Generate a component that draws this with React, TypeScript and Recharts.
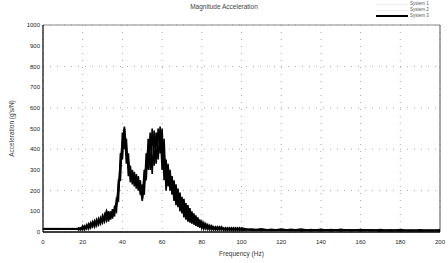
import React from 'react';
import { LineChart, Line, XAxis, YAxis, CartesianGrid, ReferenceLine, Label } from 'recharts';

document.body.style.margin = '0';

// frequency (Hz): 1 Hz steps to 100, then 5 Hz steps
const freq = [
  0, 1, 2, 3, 4, 5, 6, 7, 8, 9, 10, 11, 12, 13, 14, 15, 16, 17, 18, 19,
  20, 21, 22, 23, 24, 25, 26, 27, 28, 29, 30, 31, 32, 33, 34, 35, 36, 37, 38, 39,
  40, 41, 42, 43, 44, 45, 46, 47, 48, 49, 50, 51, 52, 53, 54, 55, 56, 57, 58, 59,
  60, 61, 62, 63, 64, 65, 66, 67, 68, 69, 70, 71, 72, 73, 74, 75, 76, 77, 78, 79,
  80, 81, 82, 83, 84, 85, 86, 87, 88, 89, 90, 91, 92, 93, 94, 95, 96, 97, 98, 99,
  100, 105, 110, 115, 120, 125, 130, 135, 140, 145, 150, 155, 160, 165, 170, 175, 180, 185, 190, 195, 200,
];

const system1 = [
  16, 14, 16, 14, 16, 14, 16, 14, 16, 14, 16, 14, 16, 14, 16, 14, 16, 14, 20, 10,
  30, 12, 35, 15, 45, 25, 55, 30, 65, 40, 80, 50, 95, 50, 100, 65, 120, 100, 250, 250,
  480, 400, 450, 270, 320, 230, 290, 210, 270, 180, 230, 180, 380, 300, 480, 280, 490, 330, 500, 380,
  500, 250, 350, 220, 300, 180, 250, 130, 210, 100, 170, 70, 140, 50, 115, 40, 90, 30, 70, 20,
  50, 15, 40, 12, 32, 10, 25, 10, 25, 10, 25, 8, 20, 8, 20, 8, 20, 8, 20, 8,
  20, 8, 15, 7, 14, 7, 14, 6, 13, 6, 13, 6, 12, 6, 12, 5, 12, 5, 11, 5, 11,
];

const system2 = [
  14, 16, 14, 16, 14, 16, 14, 16, 14, 16, 14, 16, 14, 16, 14, 16, 14, 16, 10, 20,
  10, 30, 15, 40, 20, 50, 25, 60, 35, 70, 45, 85, 55, 100, 60, 110, 75, 160, 150, 380,
  350, 510, 330, 380, 240, 300, 220, 280, 200, 250, 150, 300, 250, 450, 300, 500, 320, 480, 350, 510,
  300, 450, 200, 330, 200, 270, 150, 230, 120, 190, 90, 160, 60, 130, 45, 100, 35, 80, 25, 60,
  18, 45, 15, 35, 12, 30, 10, 25, 10, 25, 10, 20, 8, 20, 8, 20, 8, 20, 8, 20,
  8, 14, 7, 13, 7, 13, 6, 12, 6, 12, 6, 11, 6, 11, 5, 11, 5, 10, 5, 10, 5,
];

const system3 = [
  15, 15, 15, 15, 15, 15, 15, 15, 15, 15, 15, 15, 15, 15, 15, 15, 15, 15, 15, 18,
  20, 22, 25, 28, 32, 38, 40, 45, 50, 55, 62, 68, 100, 75, 80, 88, 98, 130, 200, 320,
  420, 500, 390, 320, 280, 265, 255, 245, 235, 215, 160, 240, 320, 400, 420, 450, 420, 440, 460, 480,
  400, 360, 280, 270, 250, 220, 200, 180, 165, 145, 130, 115, 100, 90, 80, 70, 62, 55, 48, 40,
  35, 30, 28, 24, 22, 20, 18, 17, 17, 16, 16, 15, 14, 14, 14, 13, 13, 13, 12, 12,
  12, 11, 10, 10, 10, 9, 9, 9, 9, 8, 8, 8, 8, 8, 7, 7, 7, 7, 7, 7, 7,
];

const xTicks = [0, 20, 40, 60, 80, 100, 120, 140, 160, 180, 200];
const yTicks = [0, 100, 200, 300, 400, 500, 600, 700, 800, 900, 1000];

const data = freq.map((f, i) => ({ f, s1: system1[i], s2: system2[i], s3: system3[i] }));

const font = '"Liberation Sans", Arial, sans-serif';

const LegendBox = () => (
  <div style={{ position: 'absolute', left: 376, top: 1, width: 72, fontFamily: font, fontSize: 4.5, color: '#555', lineHeight: '6px' }}>
    {[
      { name: 'System 1', color: '#eee', w: 0.5 },
      { name: 'System 2', color: '#eee', w: 0.5 },
      { name: 'System 3', color: '#000', w: 1.5 },
    ].map((e) => (
      <div key={e.name} style={{ display: 'flex', alignItems: 'center', height: 6 }}>
        <div style={{ width: 32, height: e.w, background: e.color, marginRight: 2 }} />
        <span>{e.name}</span>
      </div>
    ))}
  </div>
);

export default function App() {
  return (
    <div style={{ position: 'relative', width: 448, height: 263, background: '#fff' }}>
      <div style={{ position: 'absolute', left: 0, top: 3, width: 448, textAlign: 'center', fontFamily: font, fontSize: 6.5, color: '#444' }}>
        Magnitude Acceleration
      </div>
      <LegendBox />
      <LineChart width={448} height={263} data={data} margin={{ top: 25, right: 8, bottom: 5, left: 0 }}>
        <CartesianGrid stroke="#aaa" strokeDasharray="1 6" />
        <XAxis
          dataKey="f"
          type="number"
          domain={[0, 200]}
          ticks={xTicks}
          height={26}
          tickLine={false}
          tickSize={3}
          tickMargin={5}
          axisLine={{ stroke: '#000', strokeWidth: 1.5 }}
          tick={{ fontSize: 6, fill: '#222', fontFamily: font }}
        >
          <Label value="Frequency (Hz)" position="insideBottom" offset={2} style={{ fontSize: 6.5, fill: '#333', fontFamily: font }} />
        </XAxis>
        <YAxis
          type="number"
          domain={[0, 1000]}
          ticks={yTicks}
          width={43}
          tickLine={false}
          tickSize={0}
          tickMargin={3}
          axisLine={{ stroke: '#000', strokeWidth: 1.2 }}
          tick={{ fontSize: 6, fill: '#222', fontFamily: font }}
        >
          <Label value="Acceleration (g's/N)" angle={-90} position="insideLeft" offset={12} style={{ fontSize: 6.5, fill: '#333', fontFamily: font, textAnchor: 'middle' }} />
        </YAxis>
        <ReferenceLine y={1000} stroke="#888" />
        <ReferenceLine x={200} stroke="#555" />
        <Line type="linear" dataKey="s1" stroke="#000" strokeWidth={1.6} dot={false} isAnimationActive={false} />
        <Line type="linear" dataKey="s2" stroke="#000" strokeWidth={1.6} dot={false} isAnimationActive={false} />
        <Line type="linear" dataKey="s3" stroke="#000" strokeWidth={2} dot={false} isAnimationActive={false} />
      </LineChart>
    </div>
  );
}
